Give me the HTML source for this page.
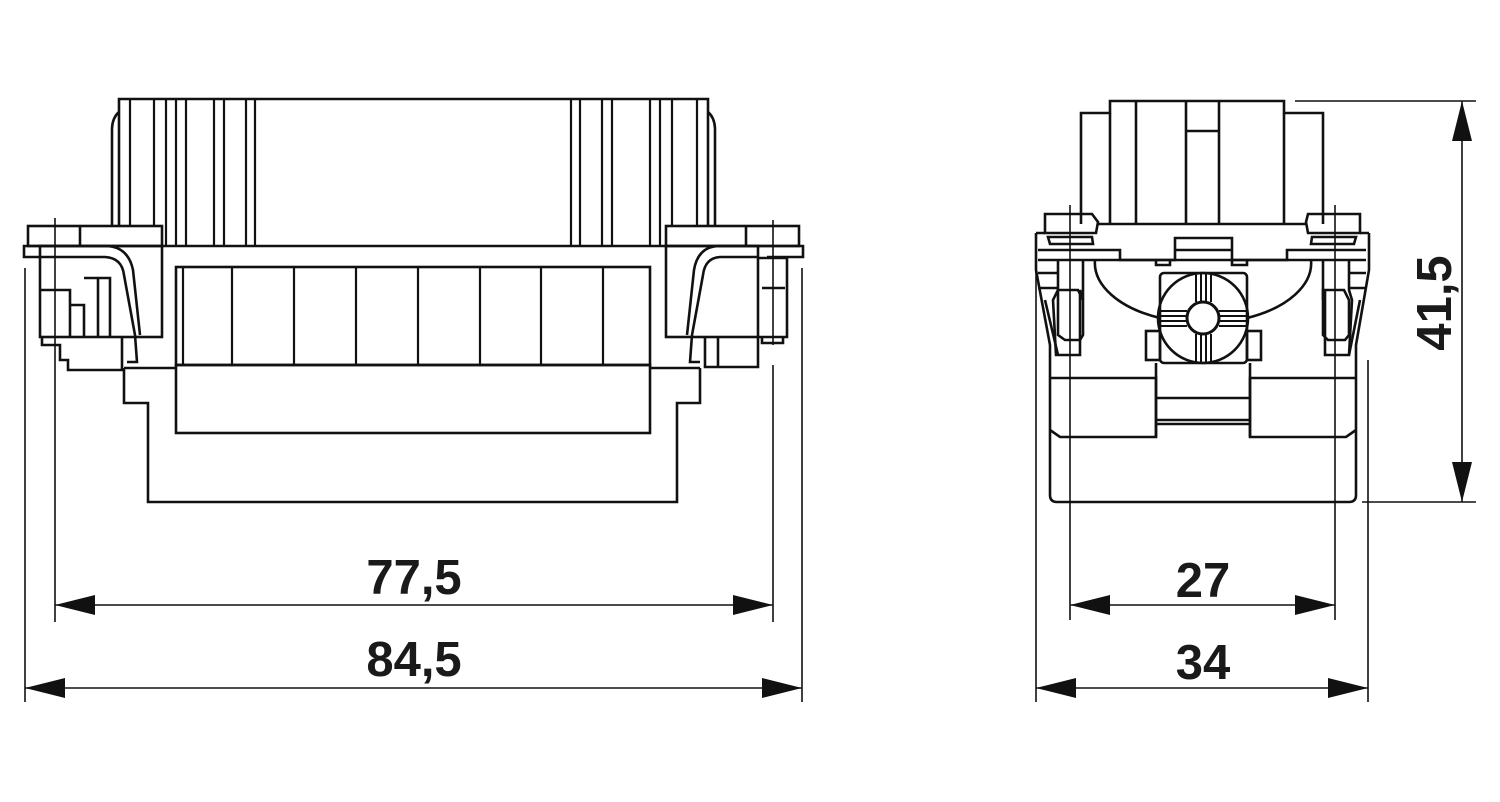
<!DOCTYPE html>
<html><head><meta charset="utf-8"><style>
html,body{margin:0;padding:0;background:#fff;}
svg{display:block}
text{font-family:"Liberation Sans",Arial,sans-serif;font-weight:bold;fill:#1a1a1a}
</style></head><body>
<svg width="1500" height="802" viewBox="0 0 1500 802" xmlns="http://www.w3.org/2000/svg">
<g fill="none" stroke="#111" stroke-width="2.6" stroke-linejoin="miter">
<path d="M119,226 L119,99 L708,99 L708,226"/>
<path d="M119,112 Q112,118 112,130 L112,226"/>
<path d="M708,112 Q715,118 715,130 L715,226"/>
<g stroke-width="2.2">
<line x1="130" y1="99" x2="130" y2="226"/><line x1="154" y1="99" x2="154" y2="226"/>
<line x1="166" y1="99" x2="166" y2="246"/><line x1="176" y1="99" x2="176" y2="246"/>
<line x1="186" y1="99" x2="186" y2="246"/><line x1="214" y1="99" x2="214" y2="246"/>
<line x1="224" y1="99" x2="224" y2="246"/><line x1="246" y1="99" x2="246" y2="246"/>
<line x1="255" y1="99" x2="255" y2="246"/>
<line x1="571" y1="99" x2="571" y2="246"/><line x1="580" y1="99" x2="580" y2="246"/>
<line x1="602" y1="99" x2="602" y2="246"/><line x1="612" y1="99" x2="612" y2="246"/>
<line x1="650" y1="99" x2="650" y2="246"/><line x1="660" y1="99" x2="660" y2="246"/>
<line x1="672" y1="99" x2="672" y2="226"/><line x1="697" y1="99" x2="697" y2="226"/>
</g>
<line x1="162" y1="246" x2="666" y2="246"/>
<rect x="28" y="226" width="134" height="20"/>
<line x1="80" y1="226" x2="80" y2="246"/>
<path d="M60,246 L24,246 L24,257 L60,257"/>
<rect x="40" y="246" width="122" height="91"/>
<path d="M60,257 L105,257 Q122,258 124,275 L135,335 L137,362 L127,362"/>
<path d="M60,246 L105,246 Q128,246 133,270 L140,335"/>
<path d="M40,290 L70,290 L70,337 M42,337 L42,345 L60,345 L60,360 L68,360 L68,370 L122,370 L122,337"/>
<path d="M70,305 L84,305 L84,337 M84,278 L110,278 L110,337 M98,278 L98,337"/>
<line x1="55" y1="218" x2="55" y2="375" stroke-width="1.6"/>
<rect x="666" y="226" width="133" height="20"/>
<line x1="746" y1="226" x2="746" y2="246"/>
<path d="M767,246 L803,246 L803,257 L767,257"/>
<rect x="666" y="246" width="92" height="91"/>
<path d="M758,257 L720,257 Q705,258 703,275 L692,335 L690,362 L700,362"/>
<path d="M767,246 L720,246 Q698,246 694,270 L687,335"/>
<path d="M758,258 L787,258 L787,337 L758,337 M762,288 L785,288 M762,337 L762,343 L783,343 L783,337"/>
<path d="M705,337 L705,367 L758,367 L758,337 M718,337 L718,367"/>
<line x1="773" y1="220" x2="773" y2="345" stroke-width="1.6"/>
<rect x="176" y="267" width="474" height="98"/>
<g stroke-width="2.2">
<line x1="183" y1="267" x2="183" y2="365"/><line x1="232" y1="267" x2="232" y2="365"/>
<line x1="294" y1="267" x2="294" y2="365"/><line x1="356" y1="267" x2="356" y2="365"/>
<line x1="418" y1="267" x2="418" y2="365"/><line x1="480" y1="267" x2="480" y2="365"/>
<line x1="541" y1="267" x2="541" y2="365"/><line x1="603" y1="267" x2="603" y2="365"/>
</g>
<rect x="176" y="365" width="474" height="68"/>
<path d="M124,368 L124,403 L148,403 L148,502 L677,502 L677,403 L700,403 L700,368"/>
<line x1="124" y1="368" x2="176" y2="368"/><line x1="650" y1="368" x2="700" y2="368"/>

<path d="M1081,224 L1081,113 L1110,113 L1110,101 L1284,101 L1284,113 L1323,113 L1323,224"/>
<line x1="1110" y1="113" x2="1110" y2="224"/><line x1="1136" y1="101" x2="1136" y2="224"/>
<line x1="1186" y1="101" x2="1186" y2="224"/><line x1="1219" y1="101" x2="1219" y2="224"/>
<line x1="1186" y1="131" x2="1219" y2="131"/><line x1="1284" y1="113" x2="1284" y2="224"/>
<line x1="1098" y1="224" x2="1306" y2="224"/>
<path d="M1045,214 L1092,214 L1098,222 L1096,233 L1045,233 Z"/>
<path d="M1048,237 L1092,237 L1093,244 L1050,244 Z"/>
<path d="M1308,214 L1360,214 L1360,233 L1308,233 L1306,222 Z"/>
<path d="M1312,237 L1356,237 L1354,244 L1311,244 Z"/>
<path d="M1036,233 L1036,270 L1050,345 L1050,495 Q1050,502 1057,502 L1349,502 Q1356,502 1356,495 L1356,345 L1369,270 L1369,233"/>
<path d="M1036,233 L1045,233 M1360,233 L1369,233"/>
<path d="M1038,250 L1120,250 L1120,260 L1175,260 L1175,238 L1232,238 L1232,260 L1287,260 L1287,250 L1366,250"/>
<line x1="1038" y1="260" x2="1366" y2="260"/>
<line x1="1175" y1="250" x2="1232" y2="250"/>
<path d="M1156,260 L1156,265 L1170,265 L1170,260 M1232,260 L1232,265 L1247,265 L1247,260"/>
<path d="M1038,273 L1058,273 M1038,288 L1058,288 M1348,273 L1366,273 M1348,288 L1366,288"/>
<path d="M1095,260 A108,60 0 0 0 1160,318 M1247,318 A108,60 0 0 0 1311,260"/>
<path d="M1058,260 L1058,290 L1053,300 L1056,355 L1080,355 L1080,290 L1083,300 L1083,260"/>
<path d="M1058,290 L1058,335 L1065,340 L1080,340 L1083,335 L1083,300 L1078,290 Z"/>
<path d="M1349,260 L1349,290 L1352,300 L1349,355 L1325,355 L1325,290 L1323,300 L1323,260"/>
<path d="M1323,290 L1323,335 L1328,340 L1345,340 L1349,335 L1349,300 L1344,290 Z"/>
<line x1="1045" y1="300" x2="1058" y2="355"/><line x1="1360" y1="300" x2="1349" y2="355"/>
<rect x="1160" y="273" width="87" height="90" rx="4"/>
<circle cx="1203" cy="318" r="45"/>
<circle cx="1203" cy="318" r="16" stroke-width="3"/>
<g stroke-width="2">
<path d="M1196,273 V302 M1201,273 V302 M1206,273 V302 M1211,273 V302"/>
<path d="M1196,334 V363 M1201,334 V363 M1206,334 V363 M1211,334 V363"/>
<path d="M1158,311 H1187 M1158,316 H1187 M1158,321 H1187 M1158,326 H1187"/>
<path d="M1219,311 H1248 M1219,316 H1248 M1219,321 H1248 M1219,326 H1248"/>
</g>
<rect x="1146" y="331" width="14" height="29"/><rect x="1247" y="331" width="14" height="29"/>
<path d="M1050,378 L1156,378 L1156,437 L1060,437 L1050,430"/>
<path d="M1356,378 L1250,378 L1250,437 L1346,437 L1356,430"/>
<path d="M1156,363 V437 M1250,363 V437 M1156,398 H1250 M1156,420 H1250 M1156,424 H1250"/>
</g>

<g stroke="#111" stroke-width="1.6" fill="none">
<line x1="55" y1="375" x2="55" y2="622"/><line x1="773" y1="365" x2="773" y2="622"/>
<line x1="25" y1="268" x2="25" y2="702"/><line x1="802" y1="268" x2="802" y2="702"/>
<line x1="55" y1="605" x2="773" y2="605"/><line x1="25" y1="688" x2="802" y2="688"/>
<line x1="1070" y1="205" x2="1070" y2="620"/><line x1="1335" y1="205" x2="1335" y2="620"/>
<line x1="1036" y1="265" x2="1036" y2="702"/><line x1="1368" y1="360" x2="1368" y2="702"/>
<line x1="1070" y1="605" x2="1335" y2="605"/><line x1="1036" y1="688" x2="1368" y2="688"/>
<line x1="1295" y1="101" x2="1476" y2="101"/><line x1="1362" y1="502" x2="1476" y2="502"/>
<line x1="1462" y1="101" x2="1462" y2="502"/>
</g>
<g fill="#111">
<polygon points="55,605 95,595 95,615"/><polygon points="773,605 733,595 733,615"/>
<polygon points="25,688 65,678 65,698"/><polygon points="802,688 762,678 762,698"/>
<polygon points="1070,605 1110,595 1110,615"/><polygon points="1335,605 1295,595 1295,615"/>
<polygon points="1036,688 1076,678 1076,698"/><polygon points="1368,688 1328,678 1328,698"/>
<polygon points="1462,101 1452,141 1472,141"/><polygon points="1462,502 1452,462 1472,462"/>
</g>
<text x="414" y="594" font-size="49" text-anchor="middle">77,5</text>
<text x="414" y="676" font-size="49" text-anchor="middle">84,5</text>
<text x="1203" y="597" font-size="49" text-anchor="middle">27</text>
<text x="1203" y="679" font-size="49" text-anchor="middle">34</text>
<text x="0" y="0" font-size="49" text-anchor="middle" transform="translate(1451,303) rotate(-90)">41,5</text>
</svg>
</body></html>
